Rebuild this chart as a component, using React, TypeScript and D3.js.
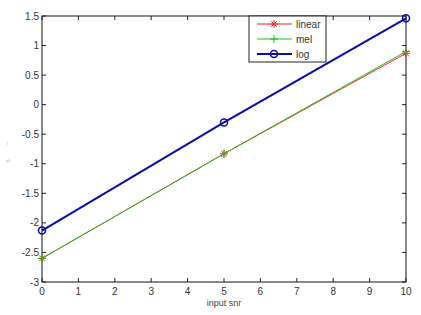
import { useEffect, useRef } from "react";
import * as d3 from "d3";

const snr = [0, 5, 10];
const linearVals = [-2.6, -0.83, 0.87];
const melVals = [-2.6, -0.83, 0.9];
const logVals = [-2.13, -0.3, 1.46];
const xTicks = [0, 1, 2, 3, 4, 5, 6, 7, 8, 9, 10];
const yTicks = [-3, -2.5, -2, -1.5, -1, -0.5, 0, 0.5, 1, 1.5];

const seriesList = [
  { name: "linear", values: linearVals, color: "#e8281e", width: 1, marker: "star" },
  { name: "mel", values: melVals, color: "#22c022", width: 1, marker: "plus" },
  { name: "log", values: logVals, color: "#0a0aa8", width: 2, marker: "circle" },
];

export default function App() {
  const ref = useRef<SVGSVGElement>(null);

  useEffect(() => {
    const width = 421;
    const height = 315;
    const marginLeft = 42;
    const marginRight = 15;
    const marginTop = 16;
    const marginBottom = 33;

    const svg = d3.select(ref.current);
    svg.selectAll("*").remove();
    svg.attr("width", width).attr("height", height)
      .style("position", "absolute").style("left", 0).style("top", 0)
      .style("background", "#fff")
      .style("font-family", "Arial, 'Liberation Sans', sans-serif");

    const x = d3.scaleLinear().domain([0, 10]).range([marginLeft, width - marginRight]);
    const y = d3.scaleLinear().domain([-3, 1.5]).range([height - marginBottom, marginTop]);

    // box
    svg.append("rect")
      .attr("x", x(0)).attr("y", y(1.5))
      .attr("width", x(10) - x(0)).attr("height", y(-3) - y(1.5))
      .attr("fill", "none").attr("stroke", "#111").attr("stroke-width", 1);

    const tickLen = 4;
    const axG = svg.append("g").attr("stroke", "#222").attr("stroke-width", 1);
    xTicks.forEach(t => {
      axG.append("line").attr("x1", x(t)).attr("x2", x(t)).attr("y1", y(-3)).attr("y2", y(-3) - tickLen);
      axG.append("line").attr("x1", x(t)).attr("x2", x(t)).attr("y1", y(1.5)).attr("y2", y(1.5) + tickLen);
    });
    yTicks.forEach(t => {
      axG.append("line").attr("x1", x(0)).attr("x2", x(0) + tickLen).attr("y1", y(t)).attr("y2", y(t));
      axG.append("line").attr("x1", x(10)).attr("x2", x(10) - tickLen).attr("y1", y(t)).attr("y2", y(t));
    });

    svg.append("g").selectAll("text").data(xTicks).join("text")
      .attr("x", d => x(d)).attr("y", y(-3) + 13)
      .attr("text-anchor", "middle").attr("font-size", 10).attr("fill", "#333")
      .text(d => d);

    svg.append("g").selectAll("text").data(yTicks).join("text")
      .attr("x", x(0) - 3).attr("y", d => y(d)).attr("dy", "0.35em")
      .attr("text-anchor", "end").attr("font-size", 10).attr("fill", "#333")
      .text(d => d);

    svg.append("text")
      .attr("x", (x(0) + x(10)) / 2).attr("y", y(-3) + 24)
      .attr("text-anchor", "middle").attr("font-size", 9).attr("fill", "#444")
      .text("input snr");

    svg.append("text")
      .attr("transform", `translate(10,${(y(-3) + y(1.5)) / 2}) rotate(-90)`)
      .attr("text-anchor", "middle").attr("font-size", 7).attr("fill", "#bbb")
      .attr("letter-spacing", 6)
      .text("s ~");

    const line = d3.line<number>().x((_, i) => x(snr[i])).y(d => y(d));

    const drawMarker = (g: any, cx: number, cy: number, s: any) => {
      if (s.marker === "circle") {
        g.append("circle").attr("cx", cx).attr("cy", cy).attr("r", 3.5)
          .attr("fill", "none").attr("stroke", s.color).attr("stroke-width", 1.5);
      } else {
        const r = 4;
        g.append("line").attr("x1", cx - r).attr("x2", cx + r).attr("y1", cy).attr("y2", cy)
          .attr("stroke", s.color).attr("stroke-width", 1);
        g.append("line").attr("x1", cx).attr("x2", cx).attr("y1", cy - r).attr("y2", cy + r)
          .attr("stroke", s.color).attr("stroke-width", 1);
        if (s.marker === "star") {
          const k = 2.8;
          g.append("line").attr("x1", cx - k).attr("x2", cx + k).attr("y1", cy - k).attr("y2", cy + k)
            .attr("stroke", s.color).attr("stroke-width", 1);
          g.append("line").attr("x1", cx - k).attr("x2", cx + k).attr("y1", cy + k).attr("y2", cy - k)
            .attr("stroke", s.color).attr("stroke-width", 1);
        }
      }
    };

    seriesList.forEach(s => {
      const g = svg.append("g");
      g.append("path").attr("d", line(s.values))
        .attr("fill", "none").attr("stroke", s.color).attr("stroke-width", s.width);
      s.values.forEach((v, i) => drawMarker(g, x(snr[i]), y(v), s));
    });

    // legend
    const lx = 249, ly = y(1.5), lw = 77, lh = 46;
    const leg = svg.append("g");
    leg.append("rect").attr("x", lx).attr("y", ly).attr("width", lw).attr("height", lh)
      .attr("fill", "#fff").attr("stroke", "#222").attr("stroke-width", 1);
    seriesList.forEach((s, i) => {
      const cy = ly + 8 + i * 15;
      leg.append("line").attr("x1", lx + 8).attr("x2", lx + 43).attr("y1", cy).attr("y2", cy)
        .attr("stroke", s.color).attr("stroke-width", s.width);
      drawMarker(leg, lx + 25, cy, s);
      leg.append("text").attr("x", lx + 47).attr("y", cy).attr("dy", "0.35em")
        .attr("font-size", 10).attr("fill", "#333").text(s.name);
    });
  }, []);

  return <svg ref={ref}></svg>;
}
